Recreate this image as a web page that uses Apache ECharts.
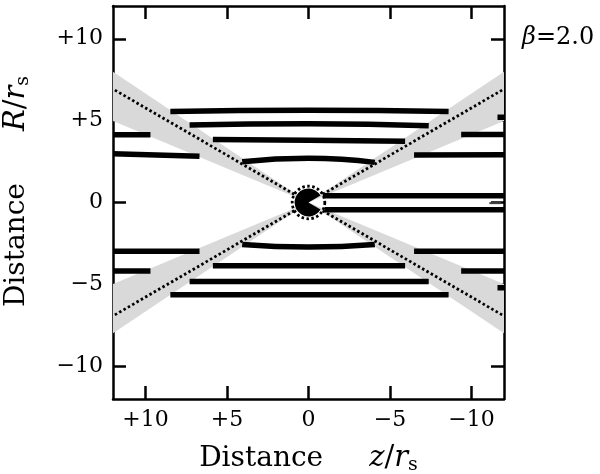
<!DOCTYPE html>
<html>
<head>
<meta charset="utf-8">
<script src="https://cdn.jsdelivr.net/npm/echarts@6/dist/echarts.min.js"></script>
<style>
  html, body { margin: 0; padding: 0; background: #fff; }
  #chart { width: 600px; height: 474px; }
</style>
</head>
<body>
<div id="chart"></div>
<script>
// tick positions (same on both axes)
var zTicks = [-10, -5, 0, 5, 10];
var rTicks = [-10, -5, 0, 5, 10];

// curved inner lines, upper and lower half  [z, R]
var arcsUpper = [
  [[8.48, 5.56], [0, 5.64], [-8.6, 5.56]],
  [[7.3, 4.74], [0, 4.81], [-7.38, 4.68]],
  [[5.87, 3.84], [0, 3.80], [-5.93, 3.74]],
  [[4.07, 2.49], [0, 2.70], [-4.07, 2.45]]
];
var arcsLower = [
  [[8.48, -5.64], [0, -5.64], [-8.6, -5.64]],
  [[7.3, -4.83], [0, -4.83], [-7.38, -4.83]],
  [[5.87, -3.87], [0, -3.87], [-5.93, -3.87]],
  [[4.07, -2.56], [0, -2.72], [-4.07, -2.56]]
];
// straight pieces outside the cones
var outerLines = [
  [[12, 2.97], [6.69, 2.82]],
  [[12, 4.13], [9.7, 4.13]],
  [[-6.48, 2.90], [-12, 2.92]],
  [[-9.37, 4.15], [-12, 4.15]],
  [[-11.6, 5.2], [-12, 5.2]],
  [[12, -2.97], [6.69, -2.97]],
  [[12, -4.19], [9.7, -4.19]],
  [[-6.48, -2.97], [-12, -2.97]],
  [[-9.37, -4.19], [-12, -4.19]],
  [[-11.6, -5.2], [-12, -5.2]],
  [[-0.88, 0.41], [-12, 0.41]],
  [[-1.0, -0.45], [-12, -0.45]]
];
var thinLine = [[-11.1, -0.04], [-11.8, -0.04]];

// grey cones
var wedges = [
  [[0, 0], [12, 7.98], [12, 4.98]],
  [[0, 0], [-12, 7.98], [-12, 4.98]],
  [[0, 0], [12, -7.98], [12, -4.98]],
  [[0, 0], [-12, -7.98], [-12, -4.98]]
];
// dotted cone axes
var coneLines = [
  [[0.87, 0.5], [12, 6.93]],
  [[-0.87, 0.5], [-12, 6.93]],
  [[0.87, -0.5], [12, -6.93]],
  [[-0.87, -0.5], [-12, -6.93]]
];
var blobCenter = [0, 0];
var blobRadius = 0.85;
var ringRadius = 1.0;

var serif = 'DejaVu Serif';

function tickFmt(v) {
  if (v > 0) return '+' + v;
  if (v < 0) return '\u2212' + (-v);
  return '0';
}

function nameRich(pad) {
  return {
    t: { fontFamily: serif, fontSize: 28, color: '#000', padding: pad },
    i: { fontFamily: serif, fontSize: 29, fontStyle: 'italic', color: '#000' },
    n: { fontFamily: serif, fontSize: 29, color: '#000' },
    s: { fontFamily: serif, fontSize: 19, color: '#000', padding: [14, 0, 0, 0] }
  };
}

function makeAxis(pos, main, name) {
  var horiz = (pos === 'bottom' || pos === 'top');
  return {
    type: 'value',
    min: -12,
    max: 12,
    position: pos,
    inverse: horiz,
    name: main ? name : '',
    nameLocation: 'middle',
    nameGap: horiz ? 43 : 80,
    nameTextStyle: { rich: horiz ? nameRich([0, 46, 0, 0]) : nameRich([0, 52, 0, 22]) },
    axisLine: { show: true, onZero: false, lineStyle: { color: '#000', width: 2.5 } },
    axisTick: {
      show: true, inside: true, length: 13,
      customValues: horiz ? zTicks : rTicks,
      lineStyle: { color: '#000', width: 2.5 }
    },
    axisLabel: {
      show: main,
      customValues: horiz ? zTicks : rTicks,
      formatter: tickFmt,
      fontFamily: serif, fontSize: 22, color: '#000', margin: 10
    },
    splitLine: { show: false }
  };
}

var series = [];

series.push({
  type: 'custom',
  clip: true,
  z: 1,
  silent: true,
  data: wedges.map(function (w, i) { return [i]; }),
  renderItem: function (params, api) {
    var w = wedges[api.value(0)];
    return {
      type: 'polygon',
      shape: { points: w.map(function (p) { return api.coord(p); }) },
      style: { fill: '#d9d9d9' }
    };
  }
});

arcsUpper.concat(arcsLower).forEach(function (a) {
  series.push({
    type: 'line', data: a, smooth: true, showSymbol: false, silent: true, z: 2,
    lineStyle: { color: '#000', width: 5.5 }
  });
});
outerLines.forEach(function (a) {
  series.push({
    type: 'line', data: a, showSymbol: false, silent: true, z: 2,
    lineStyle: { color: '#000', width: 5.5 }
  });
});
series.push({
  type: 'line', data: thinLine, showSymbol: false, silent: true, z: 2,
  lineStyle: { color: '#444', width: 2 }
});
coneLines.forEach(function (a) {
  series.push({
    type: 'line', data: a, showSymbol: false, silent: true, z: 3,
    lineStyle: { color: '#000', width: 2.8, type: [2.5, 2.5] }
  });
});

series.push({
  type: 'custom',
  clip: true,
  z: 4,
  silent: true,
  data: [blobCenter],
  renderItem: function (params, api) {
    var c = api.coord([api.value(0), api.value(1)]);
    var s = Math.abs(api.size([1, 1])[0]);
    return {
      type: 'group',
      children: [
        {
          type: 'sector',
          shape: { cx: c[0], cy: c[1], r: blobRadius * s,
            startAngle: 30 * Math.PI / 180, endAngle: 330 * Math.PI / 180 },
          style: { fill: '#000' }
        },
        {
          type: 'circle',
          shape: { cx: c[0], cy: c[1], r: ringRadius * s },
          style: { fill: null, stroke: '#000', lineWidth: 2.8, lineDash: [2.5, 2.5] }
        }
      ]
    };
  }
});

var chart = echarts.init(document.getElementById('chart'));
chart.setOption({
  animation: false,
  grid: { left: 113, right: 96, top: 6, bottom: 75, outerBoundsMode: 'none', containLabel: false },
  xAxis: [
    makeAxis('bottom', true, '{t|Distance}{i|z}{n|/}{i|r}{s|s}'),
    makeAxis('top', false, '')
  ],
  yAxis: [
    makeAxis('left', true, '{t|Distance}{i|R}{n|/}{i|r}{s|s}'),
    makeAxis('right', false, '')
  ],
  graphic: [{
    type: 'text',
    left: 522,
    top: 26,
    style: {
      text: '{i|\u03b2}{n|=2.0}',
      rich: {
        i: { fontFamily: serif, fontSize: 24, fontStyle: 'italic', fill: '#000' },
        n: { fontFamily: serif, fontSize: 24, fill: '#000' }
      }
    }
  }],
  series: series
});
</script>
</body>
</html>
